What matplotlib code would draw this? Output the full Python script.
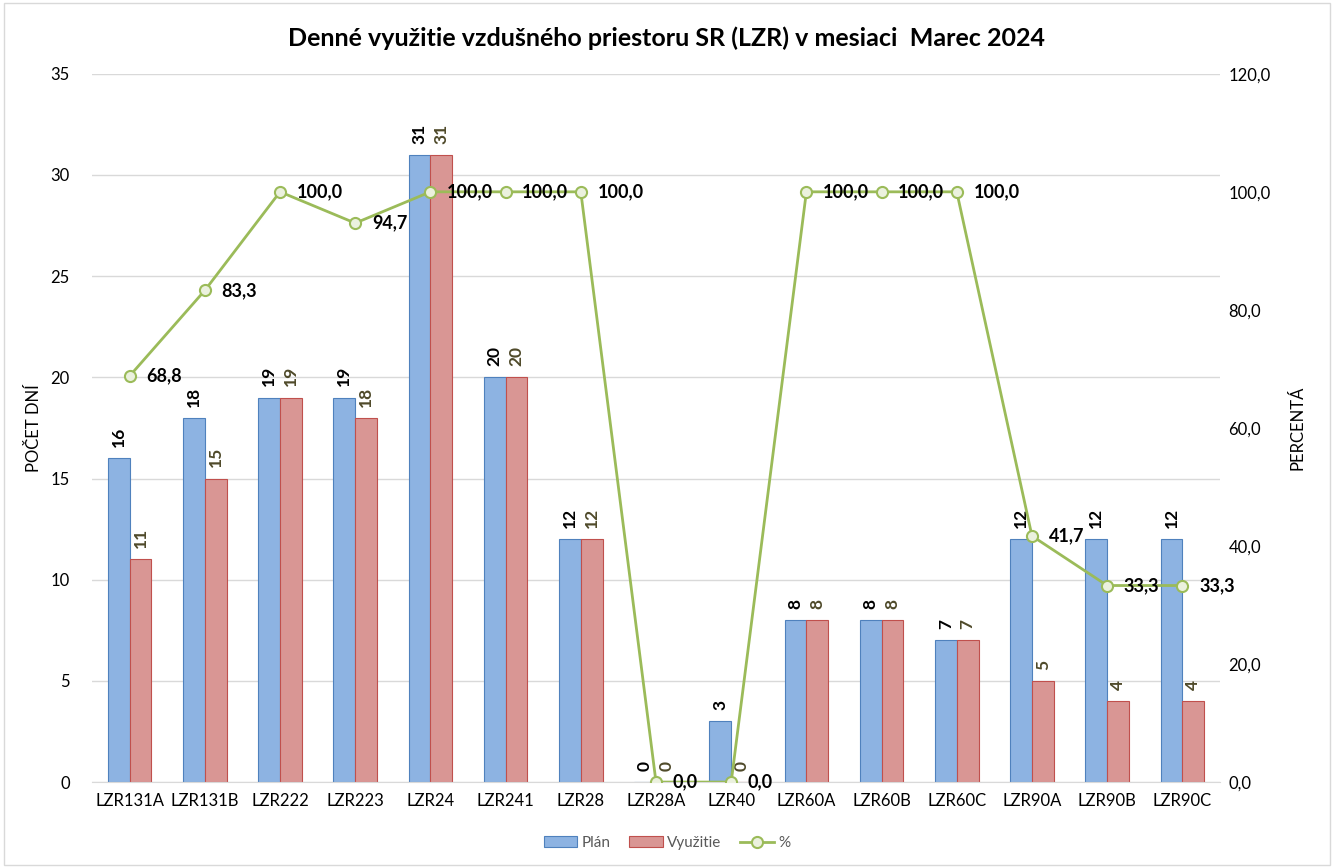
import numpy as np
import matplotlib.pyplot as plt
from matplotlib.patches import Rectangle

# dati
zony = ['LZR131A', 'LZR131B', 'LZR222', 'LZR223', 'LZR24', 'LZR241', 'LZR28',
        'LZR28A', 'LZR40', 'LZR60A', 'LZR60B', 'LZR60C', 'LZR90A', 'LZR90B', 'LZR90C']
plan = [16, 18, 19, 19, 31, 20, 12, 0, 3, 8, 8, 7, 12, 12, 12]
vyuzitie = [11, 15, 19, 18, 31, 20, 12, 0, 0, 8, 8, 7, 5, 4, 4]
percenta = [68.8, 83.3, 100.0, 94.7, 100.0, 100.0, 100.0, 0.0, 0.0,
            100.0, 100.0, 100.0, 41.7, 33.3, 33.3]

plt.rcParams['font.family'] = ['Lato', 'DejaVu Sans']

fig = plt.figure(figsize=(13.34, 8.68), dpi=100)
fig.patches.append(Rectangle((0.003, 0.003), 0.994, 0.994, transform=fig.transFigure,
                             fill=False, edgecolor='#d9d9d9', linewidth=1))
ax = fig.add_axes([0.069, 0.099, 0.8455, 0.816])

x = np.arange(len(zony))
w = 0.29
b1 = ax.bar(x - w / 2, plan, w, color='#8db3e2', edgecolor='#4f81bd', linewidth=0.8, label='Plán', zorder=2)
b2 = ax.bar(x + w / 2, vyuzitie, w, color='#d99694', edgecolor='#c0504d', linewidth=0.8, label='Využitie', zorder=2)

# etichette sopra le barre, ruotate
for xi, v in zip(x, plan):
    ax.annotate(str(v), (xi - w / 2, v), xytext=(0, 8), textcoords='offset points',
                rotation=90, ha='center', va='bottom', fontsize=12.5, fontweight='bold', color='black')
for xi, v in zip(x, vyuzitie):
    ax.annotate(str(v), (xi + w / 2, v), xytext=(0, 8), textcoords='offset points',
                rotation=90, ha='center', va='bottom', fontsize=12.5, fontweight='bold', color='#4f4a2a')

ax.set_xlim(-0.5, len(zony) - 0.5)
ax.set_ylim(0, 35)
ax.set_yticks(np.arange(0, 36, 5))
ax.set_xticks(x)
ax.set_xticklabels(zony, fontsize=12)
ax.tick_params(axis='y', labelsize=12, length=0, pad=16)
ax.tick_params(axis='x', length=0, pad=8)
ax.grid(axis='y', color='#d9d9d9', linewidth=1, zorder=0)
ax.set_axisbelow(True)
for s in ['top', 'right', 'left']:
    ax.spines[s].set_visible(False)
ax.spines['bottom'].set_color('#d9d9d9')
ax.set_ylabel('POČET DNÍ', fontsize=12, labelpad=6)

ax2 = ax.twinx()
ln, = ax2.plot(x, percenta, color='#9bbb59', linewidth=2, marker='o', markersize=8,
               markerfacecolor='#ebf1de', markeredgecolor='#9bbb59', markeredgewidth=1.5,
               label='%', zorder=3)
for xi, p in zip(x, percenta):
    ax2.annotate(f'{p:.1f}'.replace('.', ','), (xi, p), xytext=(12, 0), textcoords='offset points',
                 ha='left', va='center', fontsize=13, fontweight='bold', color='black')
ax2.set_ylim(0, 120)
ax2.set_yticks(np.arange(0, 121, 20))
ax2.set_yticklabels([f'{t:.1f}'.replace('.', ',') for t in np.arange(0, 121, 20)])
ax2.tick_params(axis='y', labelsize=12, length=0, pad=6)
for s in ['top', 'right', 'left', 'bottom']:
    ax2.spines[s].set_visible(False)
ax2.set_ylabel('PERCENTÁ', fontsize=12, labelpad=14)

fig.suptitle('Denné využitie vzdušného priestoru SR (LZR) v mesiaci  Marec 2024',
             fontsize=18, fontweight='bold', y=0.97)

fig.legend(handles=[b1, b2, ln], loc='lower center', bbox_to_anchor=(0.5, 0.005), ncol=3,
           frameon=False, fontsize=11, labelcolor='#595959', handlelength=2.2,
           handletextpad=0.3, columnspacing=1.2)

fig.savefig('out.png', dpi=100)
